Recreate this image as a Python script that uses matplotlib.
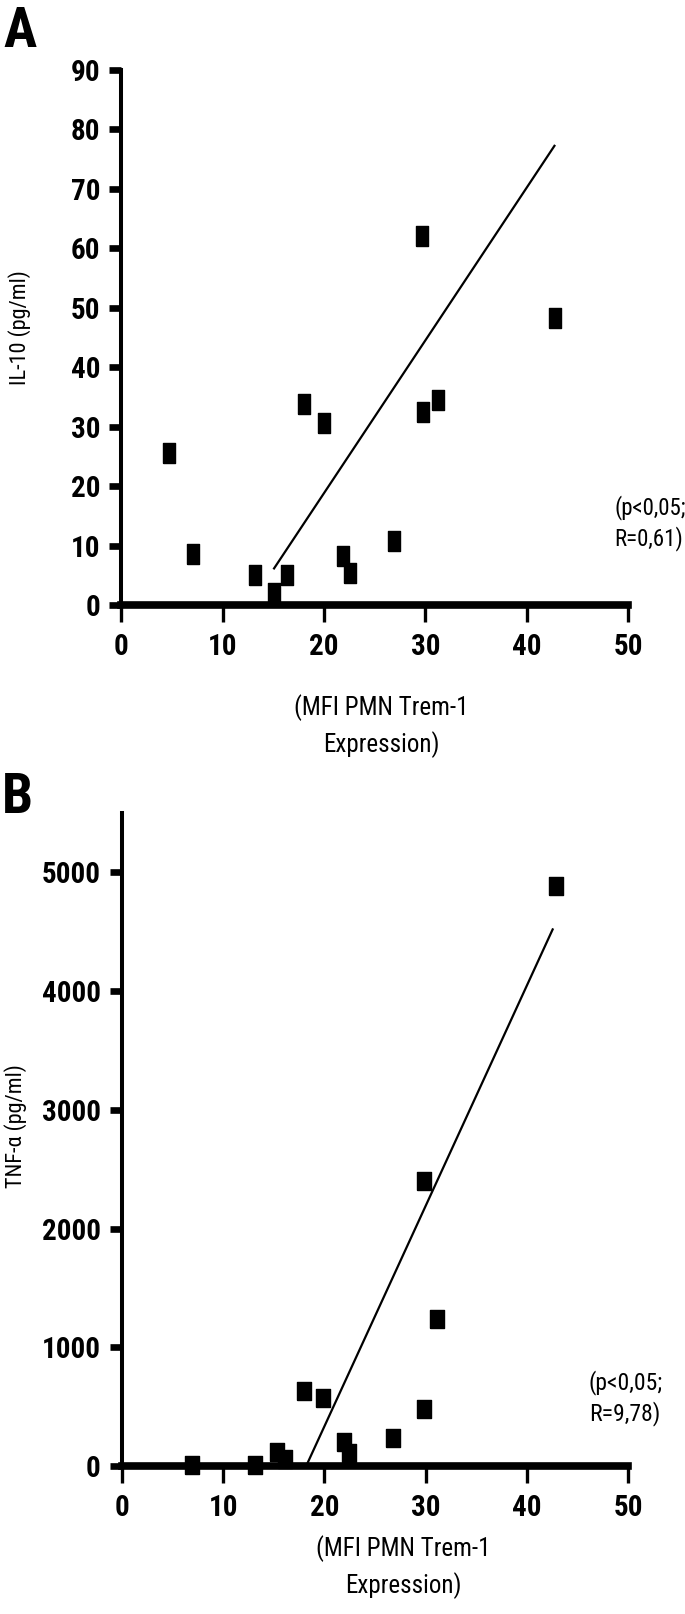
import matplotlib
matplotlib.use('Agg')
import matplotlib.pyplot as plt
from matplotlib import font_manager as fm

# panel A: IL-10 vs Trem-1 MFI
il10_x = [4.7, 7.1, 13.2, 15.1, 16.3, 18.0, 20.0, 21.9, 22.6, 26.9, 29.8, 29.7, 31.2, 42.8]
il10_y = [25.5, 8.6, 5.0, 2.0, 5.0, 33.8, 30.6, 8.3, 5.4, 10.7, 32.4, 62.0, 34.5, 48.2]
il10_fit_x = [15.0, 42.8]
il10_fit_y = [6.0, 77.4]

# panel B: TNF-alpha vs Trem-1 MFI
tnf_x = [6.9, 13.1, 15.3, 16.1, 18.0, 19.9, 21.9, 22.4, 26.8, 29.8, 29.8, 31.1, 42.9]
tnf_y = [10, 10, 120, 58, 633, 575, 202, 112, 238, 2403, 476, 1235, 4888]
tnf_fit_x = [18.2, 42.6]
tnf_fit_y = [0, 4528]

xticks = [0, 10, 20, 30, 40, 50]
il10_ticks = [0, 10, 20, 30, 40, 50, 60, 70, 80, 90]
tnf_ticks = [0, 1000, 2000, 3000, 4000, 5000]

W, H = 685, 1614
names = {f.name for f in fm.fontManager.ttflist}
cands = ['Roboto Condensed', 'Liberation Sans Narrow', 'Open Sans Condensed',
         'DejaVu Sans']
fams = [c for c in cands if c in names] + ['DejaVu Sans']
plt.rcParams['font.family'] = fams
plt.rcParams['font.stretch'] = 'condensed'

def fx(x):
    return x / W

def fy(y):
    return 1 - y / H

fig = plt.figure(figsize=(W / 100, H / 100), dpi=100)
tick_fs = 21 if fams[0] != 'DejaVu Sans' else 18


def panel(rect, xs, ys, fx_, fy_, yt, ylim, mk_ratio, mk_size):
    ax = fig.add_axes(rect)
    ax.plot(fx_, fy_, color='black', lw=1.6, solid_capstyle='butt')
    w = mk_ratio / 2
    verts = [(-w, -0.5), (w, -0.5), (w, 0.5), (-w, 0.5), (-w, -0.5)]
    ax.plot(xs, ys, ls='none', marker=verts, ms=mk_size, color='black',
            clip_on=False, zorder=3)
    ax.set_xlim(0, 50)
    ax.set_ylim(*ylim)
    ax.set_xticks(xticks)
    ax.set_yticks(yt)
    for s in ['top', 'right']:
        ax.spines[s].set_visible(False)
    ax.spines['left'].set_linewidth(2.9)
    ax.spines['bottom'].set_linewidth(5.5)
    ax.tick_params(axis='y', direction='out', length=8.3, width=4.8, pad=7)
    ax.tick_params(axis='x', direction='out', length=12.5, width=2.4, pad=8)
    for lab in ax.get_xticklabels() + ax.get_yticklabels():
        lab.set_fontsize(tick_fs)
        lab.set_fontweight('bold')
    return ax


axA = panel([fx(121.5), fy(605), 506.5 / W, 535 / H], il10_x, il10_y,
            il10_fit_x, il10_fit_y, il10_ticks, (0, 90), 0.62, 15)
axB = panel([fx(122), fy(1466), 506 / W, 653 / H], tnf_x, tnf_y,
            tnf_fit_x, tnf_fit_y, tnf_ticks, (0, 5500), 0.8, 12.5)

fig.text(fx(3), fy(6), 'A', fontsize=40, fontweight='bold', va='top', ha='left')
fig.text(fx(2), fy(772), 'B', fontsize=40, fontweight='bold', va='top', ha='left')

fig.text(fx(20), fy(328), 'IL-10 (pg/ml)', rotation=90, fontsize=16,
         ha='center', va='center')
fig.text(fx(16), fy(1126), 'TNF-α (pg/ml)', rotation=90, fontsize=16,
         ha='center', va='center')

fig.text(fx(381), fy(694), '(MFI PMN Trem-1\nExpression)', fontsize=18,
         ha='center', va='top', linespacing=1.5)
fig.text(fx(403), fy(1535), '(MFI PMN Trem-1\nExpression)', fontsize=18,
         ha='center', va='top', linespacing=1.5)

fig.text(fx(614), fy(495), '(p<0,05;\nR=0,61)', fontsize=16.5,
         ha='left', va='top', linespacing=1.3)
fig.text(fx(589), fy(1370), '(p<0,05;\nR=9,78)', fontsize=17,
         ha='left', va='top', linespacing=1.3)

fig.savefig('out.png', dpi=100)
